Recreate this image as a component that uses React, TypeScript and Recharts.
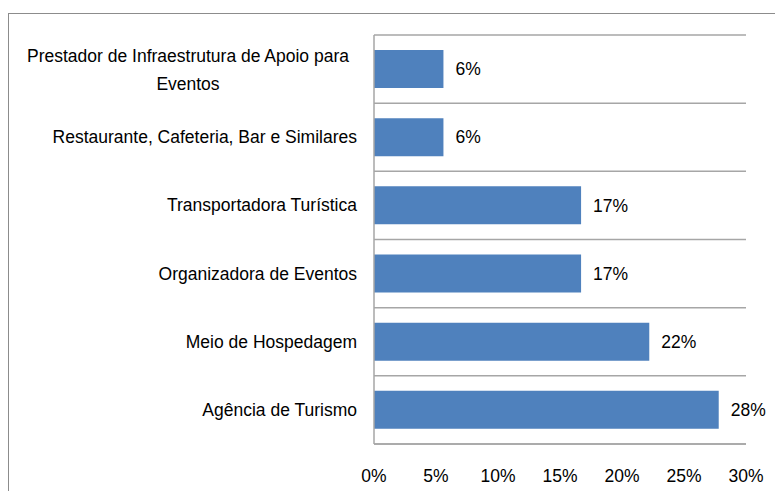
import { Bar, BarChart, CartesianGrid, LabelList, XAxis, YAxis } from "recharts";

const CATEGORIES = [
  "Prestador de Infraestrutura de Apoio para Eventos",
  "Restaurante, Cafeteria, Bar e Similares",
  "Transportadora Turística",
  "Organizadora de Eventos",
  "Meio de Hospedagem",
  "Agência de Turismo",
];
const SHARES = [5.6, 5.6, 16.7, 16.7, 22.2, 27.8];
const X_TICKS = [0, 5, 10, 15, 20, 25, 30];

// first label wraps in the original
const LABEL_LINES: Record<string, string[]> = {
  "Prestador de Infraestrutura de Apoio para Eventos": ["Prestador de Infraestrutura de Apoio para", "Eventos"],
};

const data = CATEGORIES.map((name, i) => ({ name, value: SHARES[i] }));

const FONT = "'Liberation Sans', Arial, sans-serif";
const FS = 17.5;
const GRID = "#a6a6a6";

function CategoryTick({ x, y, payload }: any) {
  const lines = LABEL_LINES[payload.value];
  if (lines) {
    const cx = 188;
    return (
      <text x={cx} y={y} textAnchor="middle" fontFamily={FONT} fontSize={FS} fill="#000">
        <tspan x={cx} dy={-7}>{lines[0]}</tspan>
        <tspan x={cx} dy={28}>{lines[1]}</tspan>
      </text>
    );
  }
  return (
    <text x={x - 9} y={y} dy={6} textAnchor="end" fontFamily={FONT} fontSize={FS} fill="#000">
      {payload.value}
    </text>
  );
}

export default function App() {
  return (
    <div style={{ position: "absolute", left: 0, top: 0, width: 775, height: 491, overflow: "hidden", background: "#fff" }}>
      <div
        style={{
          position: "absolute",
          left: 8,
          top: 13,
          width: 900,
          height: 600,
          borderLeft: "1.5px solid #8c8c8c",
          borderTop: "1.5px solid #8c8c8c",
        }}
      />
      <BarChart
        width={775}
        height={491}
        data={data}
        layout="vertical"
        margin={{ top: 35, right: 29, bottom: 17, left: 0 }}
        barCategoryGap="22%"
        style={{ position: "absolute", left: 0, top: 0 }}
      >
        <CartesianGrid
          vertical={false}
          stroke={GRID}
          strokeWidth={1.5}
          horizontalCoordinatesGenerator={({ offset }: any) =>
            [0, 1, 2, 3, 4, 5, 6].map((i) => offset.top + (i * offset.height) / 6)
          }
        />
        <XAxis
          type="number"
          domain={[0, 30]}
          ticks={X_TICKS}
          tickFormatter={(v) => `${v}%`}
          axisLine={{ stroke: GRID, strokeWidth: 1.5 }}
          tickLine={false}
          tickMargin={20}
          height={30}
          tick={{ fill: "#000", fontSize: FS, fontFamily: FONT }}
          interval={0}
        />
        <YAxis
          type="category"
          dataKey="name"
          width={374}
          axisLine={{ stroke: GRID, strokeWidth: 1.5 }}
          tickLine={false}
          tick={<CategoryTick />}
          interval={0}
        />
        <Bar dataKey="value" fill="#4f81bd" isAnimationActive={false}>
          <LabelList
            dataKey="value"
            position="right"
            offset={12}
            formatter={(v: any) => `${Math.round(v)}%`}
            style={{ fill: "#000", fontSize: FS, fontFamily: FONT }}
          />
        </Bar>
      </BarChart>
    </div>
  );
}
